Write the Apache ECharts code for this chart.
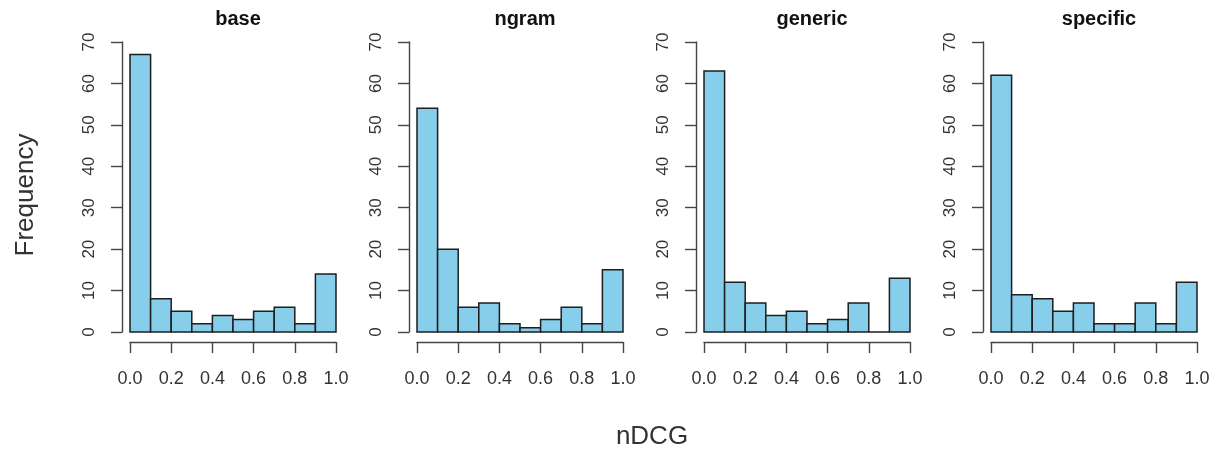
<!DOCTYPE html>
<html>
<head>
<meta charset="utf-8">
<script src="https://cdn.jsdelivr.net/npm/echarts@6/dist/echarts.min.js"></script>
<style>
  html, body { margin: 0; padding: 0; background: #ffffff; }
  #chart { width: 1217px; height: 450px; }
</style>
</head>
<body>
<div id="chart"></div>
<script>
// nDCG histograms, one panel per system
const panelNames = ['base', 'ngram', 'generic', 'specific'];
const binStarts = [0.0, 0.1, 0.2, 0.3, 0.4, 0.5, 0.6, 0.7, 0.8, 0.9];
const binEnds   = [0.1, 0.2, 0.3, 0.4, 0.5, 0.6, 0.7, 0.8, 0.9, 1.0];
const baseCounts     = [67, 8, 5, 2, 4, 3, 5, 6, 2, 14];
const ngramCounts    = [54, 20, 6, 7, 2, 1, 3, 6, 2, 15];
const genericCounts  = [63, 12, 7, 4, 5, 2, 3, 7, 0, 13];
const specificCounts = [62, 9, 8, 5, 7, 2, 2, 7, 2, 12];
const xTicks = [0.0, 0.2, 0.4, 0.6, 0.8, 1.0];
const yTicks = [0, 10, 20, 30, 40, 50, 60, 70];

const allCounts = [baseCounts, ngramCounts, genericCounts, specificCounts];

const FONT = '"Liberation Sans", Arial, Helvetica, sans-serif';
const INK = '#333333';
const AXIS = '#444444';

// panel placement
const panelLeft = [130, 417, 704, 991];
const panelWidth = 206;
const panelTop = 42;
const panelHeight = 290;

const grids = [], xAxes = [], yAxes = [], series = [], titles = [];

panelNames.forEach((name, i) => {
  grids.push({
    left: panelLeft[i], top: panelTop, width: panelWidth, height: panelHeight,
    containLabel: false
  });
  xAxes.push({
    type: 'value', gridIndex: i, min: xTicks[0], max: xTicks[xTicks.length - 1], interval: 0.2,
    offset: 10,
    axisLine: { show: true, onZero: false, lineStyle: { color: AXIS, width: 1.4 } },
    axisTick: { show: true, length: 11, lineStyle: { color: AXIS, width: 1.4 } },
    axisLabel: { color: INK, fontFamily: FONT, fontSize: 18, margin: 28,
                 formatter: v => v.toFixed(1) },
    splitLine: { show: false }
  });
  yAxes.push({
    type: 'value', gridIndex: i, min: yTicks[0], max: yTicks[yTicks.length - 1], interval: 10,
    offset: 8,
    axisLine: { show: true, onZero: false, lineStyle: { color: AXIS, width: 1.4 } },
    axisTick: { show: true, length: 11, lineStyle: { color: AXIS, width: 1.4 } },
    axisLabel: { color: INK, fontFamily: FONT, fontSize: 17, margin: 33, rotate: 90,
                 verticalAlign: 'middle', align: 'center' },
    splitLine: { show: false }
  });
  titles.push({
    text: name,
    left: panelLeft[i] + panelWidth / 2, top: 4, textAlign: 'center',
    textStyle: { fontFamily: FONT, fontSize: 20, fontWeight: 'bold', color: '#111' }
  });
  const counts = allCounts[i];
  series.push({
    type: 'custom',
    xAxisIndex: i, yAxisIndex: i,
    data: binStarts.map((s, k) => [s, binEnds[k], counts[k]]),
    encode: { x: [0, 1], y: 2 },
    renderItem: (params, api) => {
      const p0 = api.coord([api.value(0), 0]);
      const p1 = api.coord([api.value(1), api.value(2)]);
      return {
        type: 'rect',
        shape: { x: p0[0], y: p1[1], width: p1[0] - p0[0], height: p0[1] - p1[1] },
        style: { fill: '#87CEEB', stroke: '#1e1e1e', lineWidth: 1.5 }
      };
    }
  });
});

const chart = echarts.init(document.getElementById('chart'), null, { renderer: 'canvas' });
chart.setOption({
  animation: false,
  backgroundColor: '#ffffff',
  title: titles,
  grid: grids,
  xAxis: xAxes,
  yAxis: yAxes,
  series: series,
  graphic: [
    {
      type: 'text', x: 26, y: 195, rotation: Math.PI / 2,
      style: { text: 'Frequency', fontFamily: FONT, fontSize: 26, fill: INK,
               align: 'center', verticalAlign: 'middle' }
    },
    {
      type: 'text', x: 652, y: 437,
      style: { text: 'nDCG', fontFamily: FONT, fontSize: 26, fill: INK,
               align: 'center', verticalAlign: 'middle' }
    }
  ]
});
</script>
</body>
</html>
